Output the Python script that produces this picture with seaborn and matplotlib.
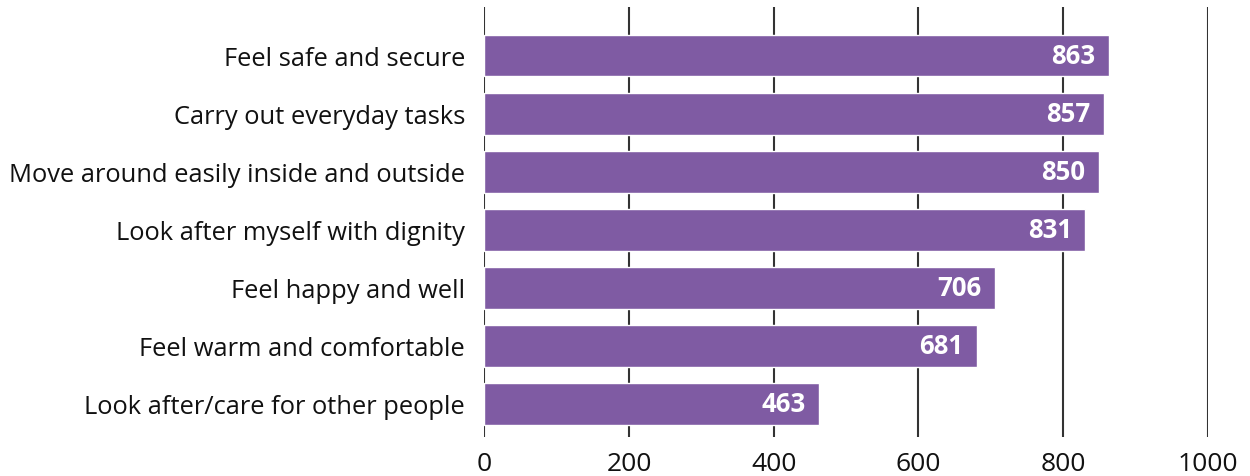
import pandas as pd
import seaborn as sns
import matplotlib.pyplot as plt

# data
labels = ['Feel safe and secure', 'Carry out everyday tasks',
          'Move around easily inside and outside', 'Look after myself with dignity',
          'Feel happy and well', 'Feel warm and comfortable',
          'Look after/care for other people']
counts = [863, 857, 850, 831, 706, 681, 463]
xticks = [0, 200, 400, 600, 800, 1000]

df = pd.DataFrame({'label': labels, 'n': counts})

sns.set_style('white')
plt.rcParams['font.family'] = ['Open Sans', 'DejaVu Sans']

fig = plt.figure(figsize=(12.5, 4.77), dpi=100)
ax = fig.add_axes([0.3875, 0.082, 0.5787, 0.901])

sns.barplot(x='n', y='label', data=df, color='#7f5ba3', saturation=1,
            width=0.72, ax=ax, zorder=3)

ax.set_xlim(0, 1000)
ax.set_ylim(6.57, -0.835)
ax.set_xticks(xticks)
ax.set_xticklabels([str(t) for t in xticks], fontsize=19)
ax.tick_params(axis='x', length=0, pad=10, colors='#111111')
ax.tick_params(axis='y', length=0, pad=14, labelsize=18.4, colors='#111111')
for t in xticks:
    ax.axvline(t, color='#333333', lw=1.5, zorder=1)
for s in ax.spines.values():
    s.set_visible(False)
ax.set_xlabel('')
ax.set_ylabel('')

for i, v in enumerate(counts):
    ax.text(v - 19, i, str(v), color='white', fontsize=18.5, fontweight='bold',
            ha='right', va='center', zorder=4)

plt.savefig('out.png', dpi=100)
